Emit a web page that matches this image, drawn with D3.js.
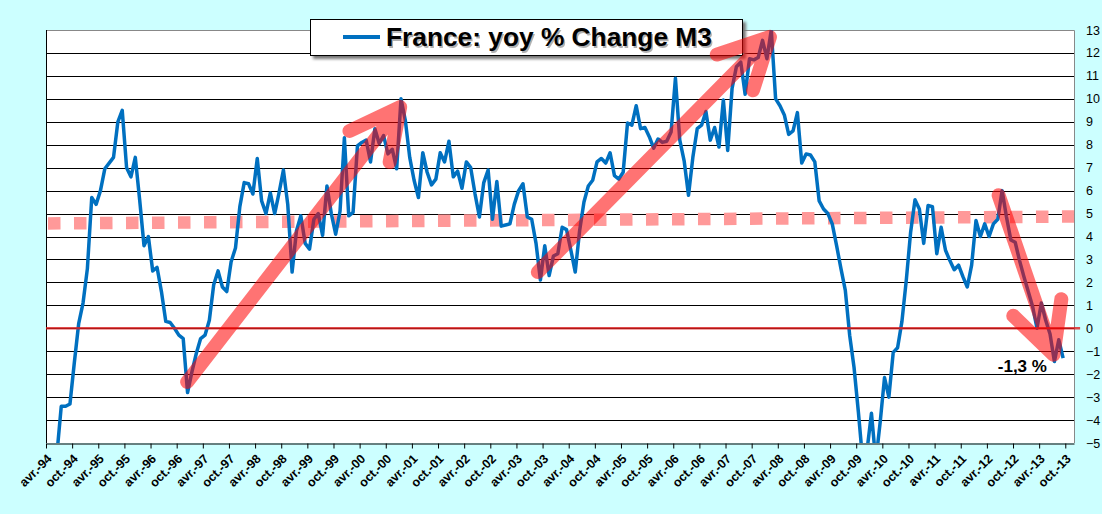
<!DOCTYPE html>
<html>
<head>
<meta charset="utf-8">
<script src="https://cdn.jsdelivr.net/npm/d3@7/dist/d3.min.js"></script>
<style>
  html, body { margin: 0; padding: 0; background: #ccffff; }
  svg { display: block; font-family: "Liberation Sans", Arial, sans-serif; }
</style>
</head>
<body>
<svg id="chart" width="1102" height="514"></svg>
<script>
// France M3, year on year % change, monthly from avr.-94
var firstYear = 1994;
var yoy1994 = [-8.5, -7.5, -5.5, -3.4, -3.4, -3.3, -1.5, 0.2, 1.1];           // avr. -> dec.
var yoy1995 = [2.6, 5.7, 5.4, 6.0, 6.95, 7.2, 7.45, 9.0, 9.5, 7.0, 6.6, 7.45];
var yoy1996 = [5.6, 3.6, 4.0, 2.5, 2.65, 1.6, 0.3, 0.25, 0.0, -0.3, -0.45, -2.8];
var yoy1997 = [-1.9, -1.1, -0.45, -0.3, 0.35, 1.9, 2.5, 1.8, 1.6, 2.9, 3.5, 5.3];
var yoy1998 = [6.35, 6.3, 5.85, 7.4, 5.55, 5.0, 5.9, 5.0, 5.9, 6.9, 5.4, 2.45];
var yoy1999 = [4.25, 4.9, 3.7, 3.45, 4.75, 5.0, 4.05, 6.2, 5.0, 4.1, 5.1, 8.3];
var yoy2000 = [4.9, 5.05, 7.95, 8.1, 8.2, 7.25, 8.7, 8.05, 8.4, 7.6, 7.8, 6.95];
var yoy2001 = [10.0, 9.05, 7.45, 6.45, 5.7, 7.65, 6.8, 6.25, 6.5, 7.65, 7.25, 8.15];
var yoy2002 = [6.6, 6.85, 6.1, 7.25, 7.0, 5.85, 4.85, 6.35, 6.9, 4.75, 6.4, 4.45];
var yoy2003 = [4.5, 4.55, 5.4, 6.0, 6.3, 4.85, 4.75, 3.7, 2.1, 3.6, 2.3, 3.15];
var yoy2004 = [3.25, 4.4, 4.3, 3.4, 2.45, 4.25, 5.5, 6.2, 6.45, 7.25, 7.4, 7.2];
var yoy2005 = [7.65, 6.65, 6.5, 6.8, 8.95, 8.85, 9.7, 8.7, 8.75, 8.35, 7.85, 8.25];
var yoy2006 = [8.1, 8.15, 8.55, 10.9, 8.2, 7.3, 5.8, 7.45, 8.7, 8.85, 9.45, 8.2];
var yoy2007 = [8.75, 7.9, 9.95, 7.75, 10.45, 11.4, 11.6, 10.2, 11.75, 11.7, 11.8, 12.55];
var yoy2008 = [11.75, 13.0, 10.0, 9.7, 9.3, 8.45, 8.6, 9.4, 7.2, 7.6, 7.55, 7.25];
var yoy2009 = [5.55, 5.2, 5.0, 4.55, 3.6, 2.6, 1.65, -0.3, -1.7, -3.65, -5.8, -5.3];
var yoy2010 = [-3.7, -5.8, -4.1, -2.15, -3.0, -1.05, -0.85, 0.3, 2.1, 4.2, 5.6, 5.2];
var yoy2011 = [3.7, 5.35, 5.3, 3.25, 4.4, 3.4, 2.95, 2.55, 2.75, 2.25, 1.8, 2.75];
var yoy2012 = [4.7, 4.0, 4.55, 4.0, 4.55, 4.75, 6.0, 4.85, 3.85, 3.75, 2.95, 2.25];
var yoy2013 = [1.6, 0.95, 0.0, 1.1, 0.35, -0.25, -1.45, -0.5, -1.3];          // janv. -> sept.

var m3Yoy = [].concat(yoy1994, yoy1995, yoy1996, yoy1997, yoy1998, yoy1999, yoy2000,
    yoy2001, yoy2002, yoy2003, yoy2004, yoy2005, yoy2006, yoy2007, yoy2008, yoy2009,
    yoy2010, yoy2011, yoy2012, yoy2013);

var yTicks = d3.range(-5, 14);
var tickMonthNames = ["avr.", "oct."];
var legendLabel = "France: yoy % Change M3";

// annotations, in [months since avr.-94, value]
var averageLine = [[0, 4.57], [236, 4.87]];
var zeroLine = [[0, 0], [237.4, 0]];
var trendArrows = [
    [[32.4, -2.34], [81.3, 9.64]],
    [[112.9, 2.45], [166.2, 12.7]],
    [[218.7, 5.8], [231.3, -1.15]]
];
var lastLabel = {at: [218.5, -1.9], text: "-1,3 %"};

(function() {
    var plotLeft = 46, plotRight = 1074, plotTop = 30, plotBottom = 443;

    var svg = d3.select('#chart');

    var x = d3.scaleLinear().domain([0, 236]).range([plotLeft, plotRight]);
    var y = d3.scaleLinear().domain([-5, 13]).range([plotBottom, plotTop]);

    var defs = svg.append('defs');
    defs.append('clipPath').attr('id', 'plotclip')
        .append('rect').attr('x', plotLeft).attr('y', plotTop)
        .attr('width', plotRight - plotLeft).attr('height', plotBottom - plotTop);
    defs.append('filter').attr('id', 'shadow')
        .attr('x', '-10%').attr('y', '-30%').attr('width', '120%').attr('height', '160%')
        .append('feGaussianBlur').attr('stdDeviation', 1.6);

    // Plot area
    svg.append('rect')
        .attr('x', plotLeft).attr('y', plotTop)
        .attr('width', plotRight - plotLeft).attr('height', plotBottom - plotTop)
        .attr('fill', '#fff');

    // Gridlines:
    svg.append('g').selectAll('line')
        .data(yTicks.filter((v) => v > -5 && v < 13))
        .enter().append('line')
        .attr('x1', plotLeft).attr('x2', plotRight)
        .attr('y1', (d) => Math.round(y(d)) + 0.5)
        .attr('y2', (d) => Math.round(y(d)) + 0.5)
        .attr('stroke', '#000').attr('stroke-width', 1);

    // Borders
    svg.append('path')
        .attr('d', 'M' + plotLeft + ',' + (plotTop + 0.5) + 'H' + (plotRight + 0.5) + 'V' + plotBottom)
        .attr('fill', 'none').attr('stroke', '#888').attr('stroke-width', 1);
    svg.append('line')
        .attr('x1', plotLeft + 0.5).attr('x2', plotLeft + 0.5)
        .attr('y1', plotTop).attr('y2', plotBottom)
        .attr('stroke', '#000');

    // Dotted average level
    var pt = d3.line().x((d) => x(d[0])).y((d) => y(d[1]));
    svg.append('path')
        .datum(averageLine)
        .attr('d', pt)
        .attr('fill', 'none')
        .attr('stroke', '#ff9999')
        .attr('stroke-width', 12.5)
        .attr('stroke-dasharray', '12.5,13.5')
        .attr('stroke-dashoffset', -2);

    // Series
    var line = d3.line()
        .x((d, i) => x(i + 0.5))
        .y((d) => y(d));
    svg.append('path')
        .datum(m3Yoy)
        .attr('clip-path', 'url(#plotclip)')
        .attr('d', line)
        .attr('fill', 'none')
        .attr('stroke', '#0070c0')
        .attr('stroke-width', 3.5)
        .attr('stroke-linejoin', 'round');

    // Zero line
    svg.append('path')
        .datum(zeroLine)
        .attr('d', pt)
        .attr('stroke', '#dc1e1e')
        .attr('stroke-opacity', 0.8)
        .attr('stroke-width', 2.5);

    // X axis
    var xAxis = d3.axisBottom(x)
        .tickValues(d3.range(0, m3Yoy.length + 1, 6))
        .tickSize(5)
        .tickSizeOuter(0)
        .tickFormat((i) => tickMonthNames[(i / 6) % 2] + '-' +
            String((firstYear + Math.floor(i / 12)) % 100).padStart(2, '0'));
    var gx = svg.append('g')
        .attr('transform', 'translate(0,' + (plotBottom + 0.5) + ')')
        .call(xAxis);
    gx.select('.domain').attr('stroke', '#000');
    gx.selectAll('.tick line').attr('stroke', '#000');
    gx.selectAll('.tick text')
        .attr('x', 0).attr('y', 0).attr('dy', 0)
        .attr('transform', 'translate(6,16) rotate(-45)')
        .attr('text-anchor', 'end')
        .attr('fill', '#000')
        .style('font-family', '"Liberation Sans", Arial, sans-serif')
        .style('font-size', '12.5px')
        .style('font-weight', 'bold');

    // Y axis (right)
    var gy = svg.append('g')
        .attr('transform', 'translate(' + plotRight + ',0)')
        .call(d3.axisRight(y).tickValues(yTicks).tickSize(0).tickPadding(12));
    gy.select('.domain').remove();
    gy.selectAll('.tick text')
        .attr('fill', '#000')
        .style('font-family', '"Liberation Sans", Arial, sans-serif')
        .style('font-size', '12.5px');

    // Legend
    var legend = svg.append('g');
    legend.append('rect')
        .attr('x', 313).attr('y', 22).attr('width', 433).attr('height', 37)
        .attr('fill', '#777').attr('filter', 'url(#shadow)');
    legend.append('rect')
        .attr('x', 310.5).attr('y', 19.5).attr('width', 432).attr('height', 36)
        .attr('fill', '#fff').attr('stroke', '#000');
    legend.append('line')
        .attr('x1', 343).attr('x2', 380).attr('y1', 37).attr('y2', 37)
        .attr('stroke', '#0070c0').attr('stroke-width', 4);
    legend.append('text')
        .attr('x', 387.5).attr('y', 47.5)
        .attr('fill', '#000').attr('opacity', 0.3)
        .style('font-size', '26.3px').style('font-weight', 'bold')
        .text(legendLabel);
    legend.append('text')
        .attr('x', 386).attr('y', 46)
        .attr('fill', '#000')
        .style('font-size', '26.3px').style('font-weight', 'bold')
        .text(legendLabel);

    // Trend arrows
    var armLen = 56, armAngle = 27 * Math.PI / 180;
    var arrows = svg.append('g').attr('opacity', 0.55);
    arrows.selectAll('path')
        .data(trendArrows)
        .enter().append('path')
        .attr('d', (d) => {
            var x0 = x(d[0][0]), y0 = y(d[0][1]), x1 = x(d[1][0]), y1 = y(d[1][1]);
            var back = Math.atan2(y0 - y1, x0 - x1);
            var a1 = back + armAngle, a2 = back - armAngle;
            return 'M' + x0 + ',' + y0 + 'L' + x1 + ',' + y1 +
                'M' + (x1 + armLen * Math.cos(a1)) + ',' + (y1 + armLen * Math.sin(a1)) +
                'L' + x1 + ',' + y1 +
                'L' + (x1 + armLen * Math.cos(a2)) + ',' + (y1 + armLen * Math.sin(a2));
        })
        .attr('fill', 'none')
        .attr('stroke', '#ff0000')
        .attr('stroke-width', 14)
        .attr('stroke-linecap', 'round')
        .attr('stroke-linejoin', 'round');

    // Last value label
    svg.append('text')
        .attr('x', x(lastLabel.at[0])).attr('y', y(lastLabel.at[1]))
        .attr('fill', '#000')
        .style('font-size', '17px').style('font-weight', 'bold')
        .text(lastLabel.text);
})();
</script>
</body>
</html>
